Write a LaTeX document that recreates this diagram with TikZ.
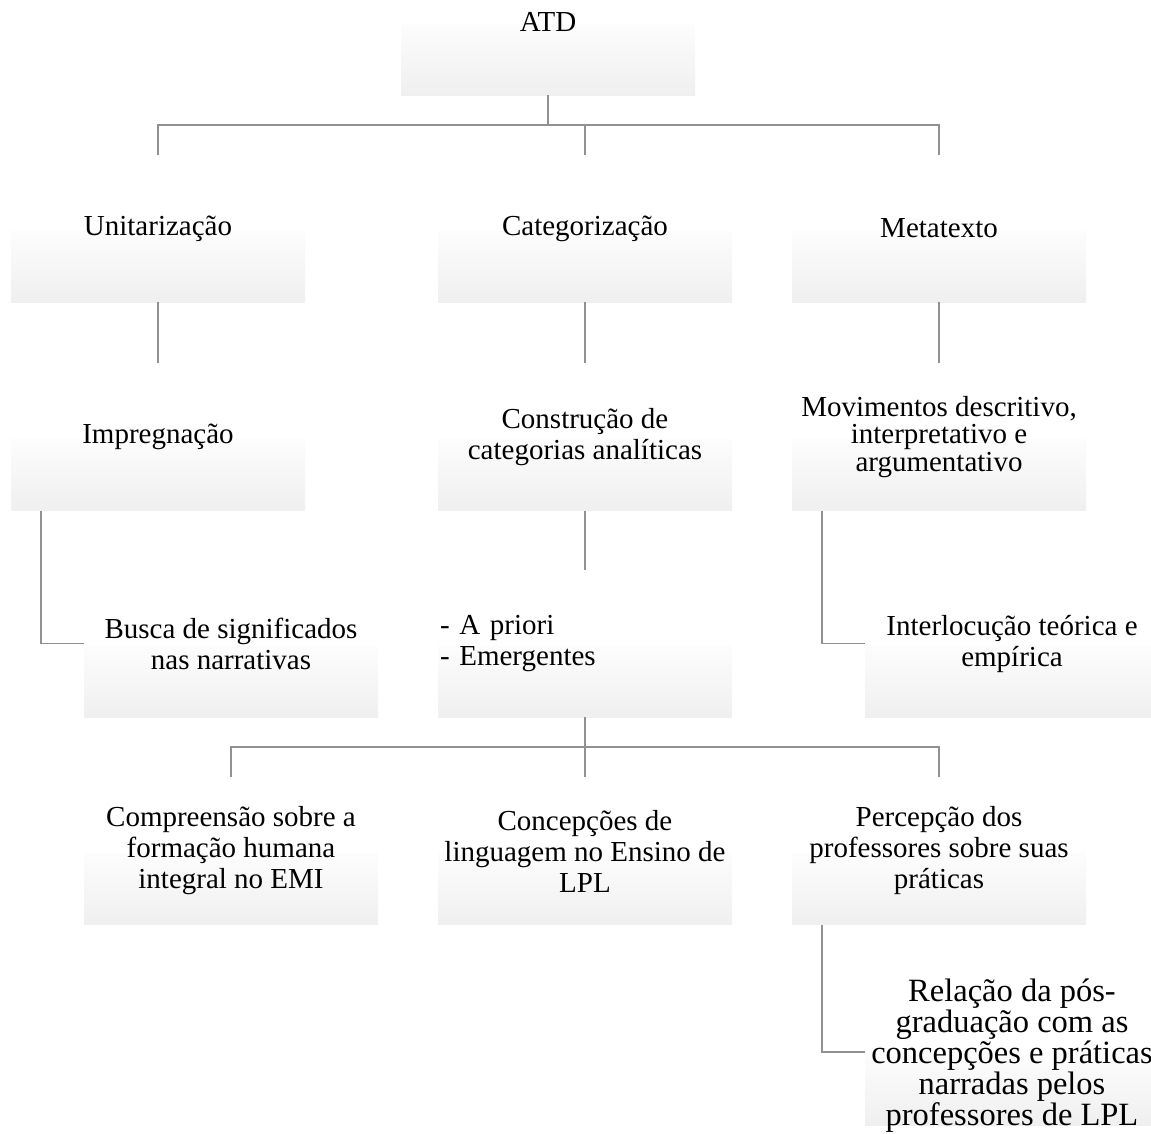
\documentclass[tikz,border=0pt]{standalone}
\usepackage{fontspec}
\setmainfont{Liberation Serif}
\definecolor{boxgray}{RGB}{226,226,226}
\definecolor{linegray}{RGB}{145,145,145}
\pgfdeclareverticalshading{boxfade}{100bp}{color(0bp)=(boxgray);
  color(49bp)=(boxgray!9!white); color(50bp)=(white); color(100bp)=(white)}

\begin{document}
\begin{tikzpicture}[x=1pt,y=-1pt,
    box/.style={rectangle, minimum width=294pt, minimum height=147pt,
      inner sep=0pt, shading=boxfade, align=center,
      font=\fontsize{29}{31}\selectfont},
    link/.style={draw=linegray, line width=1.8pt}]
  \useasboundingbox (0,0) rectangle (1151,1133);

  % ATD
  \node[box] (atd) at (548,21.5) {ATD};
  \coordinate (split1) at (548,125);

  % phases
  \node[box] (unit) at (158,228.5) {Unitarização};
  \node[box] (cat) at (585,228.5) {Categorização};
  \node[box] (meta) at (939,228.5) {Metatexto};
  \draw[link] (atd.south) -- (split1);
  \draw[link] (split1) -| (unit.north);
  \draw[link] (split1) -| (cat.north);
  \draw[link] (split1) -| (meta.north);

  % second row
  \node[box] (impr) at (158,437) {Impregnação};
  \node[box] (constr) at (585,437) {Construção de\\categorias analíticas};
  \node[box, font=\fontsize{29}{27.5}\selectfont] (mov) at (939,437)
    {Movimentos descritivo,\\interpretativo e\\argumentativo};
  \draw[link] (unit.south) -- (impr.north);
  \draw[link] (cat.south) -- (constr.north);
  \draw[link] (meta.south) -- (mov.north);

  % third row
  \node[box] (busca) at (231,643.5) {Busca de significados\\nas narrativas};
  \node[box, align=left, text width=290pt, inner xsep=2pt] (prio) at (585,643.5)
    {- A priori\\- Emergentes};
  \node[box] (inter) at (1012,643.5) {Interlocução teórica e\\empírica};
  \draw[link] ([xshift=30pt]impr.south west) |- (busca.west);
  \draw[link] (constr.south) -- (prio.north);
  \draw[link] ([xshift=30pt]mov.south west) |- (inter.west);

  % categories
  \coordinate (split2) at (585,747);
  \node[box] (compr) at (231,851) {Compreensão sobre a\\formação humana\\integral no EMI};
  \node[box] (conc) at (585,851) {Concepções de\\linguagem no Ensino de\\LPL};
  \node[box] (perc) at (939,851) {Percepção dos\\professores sobre suas\\práticas};
  \draw[link] (prio.south) -- (split2);
  \draw[link] (split2) -| (compr.north);
  \draw[link] (split2) -| (conc.north);
  \draw[link] (split2) -| (perc.north);

  % last box
  \node[box, font=\fontsize{32.5}{31}\selectfont, text depth=0pt] (rel) at (1012,1052)
    {Relação da pós-\\graduação com as\\concepções e práticas\\narradas pelos\\professores de LPL};
  \draw[link] ([xshift=30pt]perc.south west) |- (rel.west);
\end{tikzpicture}
\end{document}
